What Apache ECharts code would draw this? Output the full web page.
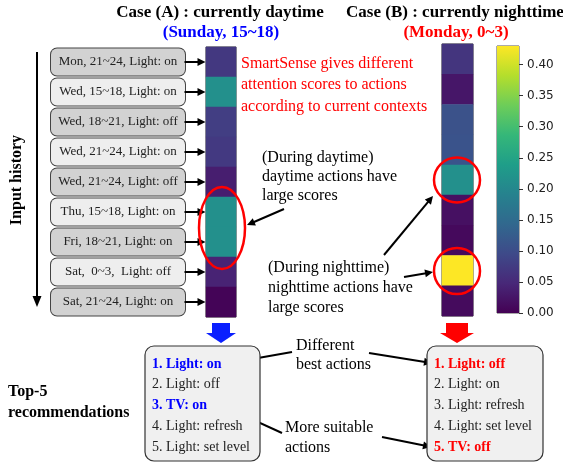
<!DOCTYPE html>
<html>
<head>
<meta charset="utf-8">
<script src="https://cdn.jsdelivr.net/npm/echarts@6/dist/echarts.min.js"></script>
<style>html,body{margin:0;padding:0;background:#fff;}#c{width:563px;height:463px;}</style>
</head>
<body>
<div id="c"></div>
<script>
// ---- data ----
const historyLabels = ['Mon, 21~24, Light: on', 'Wed, 15~18, Light: on', 'Wed, 18~21, Light: off', 'Wed, 21~24, Light: on', 'Wed, 21~24, Light: off', 'Thu, 15~18, Light: on', 'Fri, 18~21, Light: on', 'Sat,  0~3,  Light: off', 'Sat, 21~24, Light: on'];
const scoresA = [0.07, 0.215, 0.078, 0.072, 0.036, 0.215, 0.215, 0.042, 0.004];
const scoresB = [0.066, 0.026, 0.108, 0.11, 0.215, 0.018, 0.01, 0.43, 0.012];
const colorbarTicks = [0, 0.05, 0.10, 0.15, 0.20, 0.25, 0.30, 0.35, 0.40];
const scoreMax = 0.43;
const recA = ['1. Light: on', '2. Light: off', '3. TV: on', '4. Light: refresh', '5. Light: set level'];
const recAHighlight = [0, 2];
const recB = ['1. Light: off', '2. Light: on', '3. Light: refresh', '4. Light: set level', '5. TV: off'];
const recBHighlight = [0, 4];

const viridis = ['#440154', '#482878', '#3E4A89', '#31688E', '#26828E', '#1F9E89', '#35B779', '#6DCD59', '#B4DE2C', '#FDE725'];
const SERIF = '"Liberation Serif", "Times New Roman", serif';

const chart = echarts.init(document.getElementById('c'), null, {renderer: 'canvas'});

function arrow(x1, y1, x2, y2, head, w, lw) {
  head = head || 8; w = w || 4; lw = lw || 2;
  const a = Math.atan2(y2 - y1, x2 - x1);
  const bx = x2 - head * Math.cos(a), by = y2 - head * Math.sin(a);
  const px = -Math.sin(a) * w, py = Math.cos(a) * w;
  return [
    {type: 'line', silent: true, shape: {x1: x1, y1: y1, x2: bx + Math.cos(a), y2: by + Math.sin(a)}, style: {stroke: '#000', lineWidth: lw}},
    {type: 'polygon', silent: true, shape: {points: [[x2, y2], [bx + px, by + py], [bx - px, by - py]]}, style: {fill: '#000'}}
  ];
}
function txt(text, x, y, font, fill, align, lineHeight) {
  return {type: 'text', silent: true, x: x, y: y, style: {text: text, font: font, fill: fill || '#000',
    align: align || 'left', verticalAlign: 'middle', textAlign: align || 'left', textVerticalAlign: 'middle', lineHeight: lineHeight}};
}
function recBox(list, hl, hlColor, left, top, w, h) {
  const els = [{type: 'rect', silent: true, shape: {x: left, y: top, width: w, height: h, r: 9}, style: {fill: '#f0f0f0', stroke: '#333', lineWidth: 1.2}}];
  list.forEach(function (t, i) {
    const isH = hl.indexOf(i) >= 0;
    els.push(txt(t, left + 7, top + 18 + i * 20.8, (isH ? 'bold ' : '') + '14px ' + SERIF, isH ? hlColor : '#222'));
  });
  return els;
}
function bigArrow(cx, top, headHalf, shaftHalf, color) {
  return {type: 'polygon', silent: true, shape: {points: [
    [cx - shaftHalf, top], [cx + shaftHalf, top], [cx + shaftHalf, top + 10], [cx + headHalf, top + 10],
    [cx, top + 20], [cx - headHalf, top + 10], [cx - shaftHalf, top + 10]]}, style: {fill: color}};
}

let graphics = [];
graphics.push(txt('Case (A) : currently daytime', 220, 13, 'bold 17px ' + SERIF, '#000', 'center'));
graphics.push(txt('(Sunday, 15~18)', 221, 33, 'bold 17px ' + SERIF, '#0000ff', 'center'));
graphics.push(txt('Case (B) : currently nighttime', 455, 13, 'bold 17px ' + SERIF, '#000', 'center'));
graphics.push(txt('(Monday, 0~3)', 456, 33, 'bold 17px ' + SERIF, '#ff0000', 'center'));
graphics.push(txt('SmartSense gives different\nattention scores to actions\naccording to current contexts', 241, 85, '16px ' + SERIF, '#ff0000', 'left', 21.5));
graphics.push(txt('(During daytime)\ndaytime actions have\nlarge scores', 262, 177, '16px ' + SERIF, '#000', 'left', 19));
graphics.push(txt('(During nighttime)\nnighttime actions have\nlarge scores', 268, 288, '16px ' + SERIF, '#000', 'left', 20));
graphics.push(txt('Different\nbest actions', 296, 355.5, '16px ' + SERIF, '#000', 'left', 19));
graphics.push(txt('More suitable\nactions', 285, 438, '16px ' + SERIF, '#000', 'left', 20));
graphics.push(txt('Top-5\nrecommendations', 8, 402, 'bold 16px ' + SERIF, '#000', 'left', 21));
graphics.push({type: 'text', silent: true, x: 17, y: 180, rotation: Math.PI / 2,
  style: {text: 'Input history', font: 'bold 16px ' + SERIF, fill: '#000', align: 'center', verticalAlign: 'middle', textAlign: 'center', textVerticalAlign: 'middle'}});
graphics = graphics.concat(arrow(37, 52, 37, 307, 11, 4.5, 2));
// ellipses
graphics.push({type: 'ellipse', silent: true, shape: {cx: 222, cy: 228, rx: 23, ry: 41}, style: {fill: 'none', stroke: '#ff0000', lineWidth: 2.5}, z: 100});
graphics.push({type: 'ellipse', silent: true, shape: {cx: 457, cy: 180, rx: 23, ry: 22.5}, style: {fill: 'none', stroke: '#ff0000', lineWidth: 2.5}, z: 100});
graphics.push({type: 'ellipse', silent: true, shape: {cx: 457, cy: 271, rx: 23, ry: 23}, style: {fill: 'none', stroke: '#ff0000', lineWidth: 2.5}, z: 100});
// annotation arrows
graphics = graphics.concat(arrow(284, 209, 247, 225));
graphics = graphics.concat(arrow(384, 255, 433, 196));
graphics = graphics.concat(arrow(404, 277, 433, 272));
graphics = graphics.concat(arrow(292, 352, 230, 363));
graphics = graphics.concat(arrow(369, 353, 432, 363));
graphics = graphics.concat(arrow(282, 433, 225, 407));
graphics = graphics.concat(arrow(382, 437, 431, 447));
// big arrows
graphics.push(bigArrow(221, 323, 15, 9, '#0a1fff'));
graphics.push(bigArrow(457, 323, 17, 11, '#ff0000'));
// recommendation boxes
graphics = graphics.concat(recBox(recA, recAHighlight, '#0000ff', 145, 346, 115, 115));
graphics = graphics.concat(recBox(recB, recBHighlight, '#ff0000', 427, 346, 116, 115));

const heatA = scoresA.map(function (v, i) { return [0, i, v]; });
const heatB = scoresB.map(function (v, i) { return [0, i, v]; });

const option = {
  backgroundColor: '#fff',
  animation: false,
  grid: [
    {left: 206, top: 47, width: 30, height: 270, show: true, borderColor: '#333', borderWidth: 1, containLabel: false},
    {left: 442, top: 44, width: 31, height: 272, show: true, borderColor: '#333', borderWidth: 1, containLabel: false},
    {left: 497, top: 46, width: 22, height: 267, show: true, borderColor: '#555', borderWidth: 1, containLabel: false}
  ],
  xAxis: [
    {type: 'category', gridIndex: 0, data: ['A'], show: false},
    {type: 'category', gridIndex: 1, data: ['B'], show: false},
    {type: 'category', gridIndex: 2, data: ['cb'], show: false}
  ],
  yAxis: [
    {type: 'category', gridIndex: 0, data: historyLabels, inverse: true,
      axisLine: {show: false}, axisTick: {show: false}, splitLine: {show: false},
      axisLabel: {margin: 21, formatter: function (v, i) { return (i % 2 === 0 ? '{d|' : '{l|') + v + '}'; },
        rich: {
          d: {backgroundColor: '#d2d2d2', borderColor: '#444', borderWidth: 1, borderRadius: 6, width: 134, height: 27, align: 'center', verticalAlign: 'middle', fontSize: 13, fontFamily: SERIF, color: '#222'},
          l: {backgroundColor: '#eeeeee', borderColor: '#444', borderWidth: 1, borderRadius: 6, width: 134, height: 27, align: 'center', verticalAlign: 'middle', fontSize: 13, fontFamily: SERIF, color: '#222'}
        }}},
    {type: 'category', gridIndex: 1, data: historyLabels, inverse: true, show: false},
    {type: 'value', gridIndex: 2, min: 0, max: scoreMax, position: 'right',
      axisLine: {show: false}, splitLine: {show: false},
      axisTick: {show: true, length: 4, customValues: colorbarTicks, lineStyle: {color: '#333', width: 1}},
      axisLabel: {customValues: colorbarTicks, margin: 8, fontSize: 12, fontFamily: '"DejaVu Sans", sans-serif', color: '#222',
        formatter: function (v) { return v.toFixed(2); }}}
  ],
  visualMap: {type: 'continuous', show: false, min: 0, max: scoreMax, seriesIndex: [0, 1], dimension: 2,
    inRange: {color: viridis}},
  series: [
    {type: 'heatmap', xAxisIndex: 0, yAxisIndex: 0, data: heatA, silent: true},
    {type: 'heatmap', xAxisIndex: 1, yAxisIndex: 1, data: heatB, silent: true},
    {type: 'bar', xAxisIndex: 2, yAxisIndex: 2, data: [scoreMax], barWidth: '100%', silent: true,
      itemStyle: {color: new echarts.graphic.LinearGradient(0, 1, 0, 0, viridis.map(function (c, i) { return {offset: i / (viridis.length - 1), color: c}; }))}},
    {type: 'custom', xAxisIndex: 0, yAxisIndex: 0, silent: true, clip: false, z: 5,
      data: historyLabels.map(function (c, i) { return [0, i]; }),
      renderItem: function (params, api) {
        const p = api.coord([api.value(0), api.value(1)]);
        const s = api.size([1, 1]);
        const x0 = p[0] - s[0] / 2 - 0.5;
        return {type: 'group', children: [
          {type: 'line', shape: {x1: x0 - 21, y1: p[1], x2: x0 - 6, y2: p[1]}, style: {stroke: '#000', lineWidth: 2}},
          {type: 'polygon', shape: {points: [[x0, p[1]], [x0 - 8, p[1] - 4], [x0 - 8, p[1] + 4]]}, style: {fill: '#000'}}
        ]};
      }}
  ],
  graphic: {elements: graphics}
};
chart.setOption(option);
</script>
</body>
</html>
